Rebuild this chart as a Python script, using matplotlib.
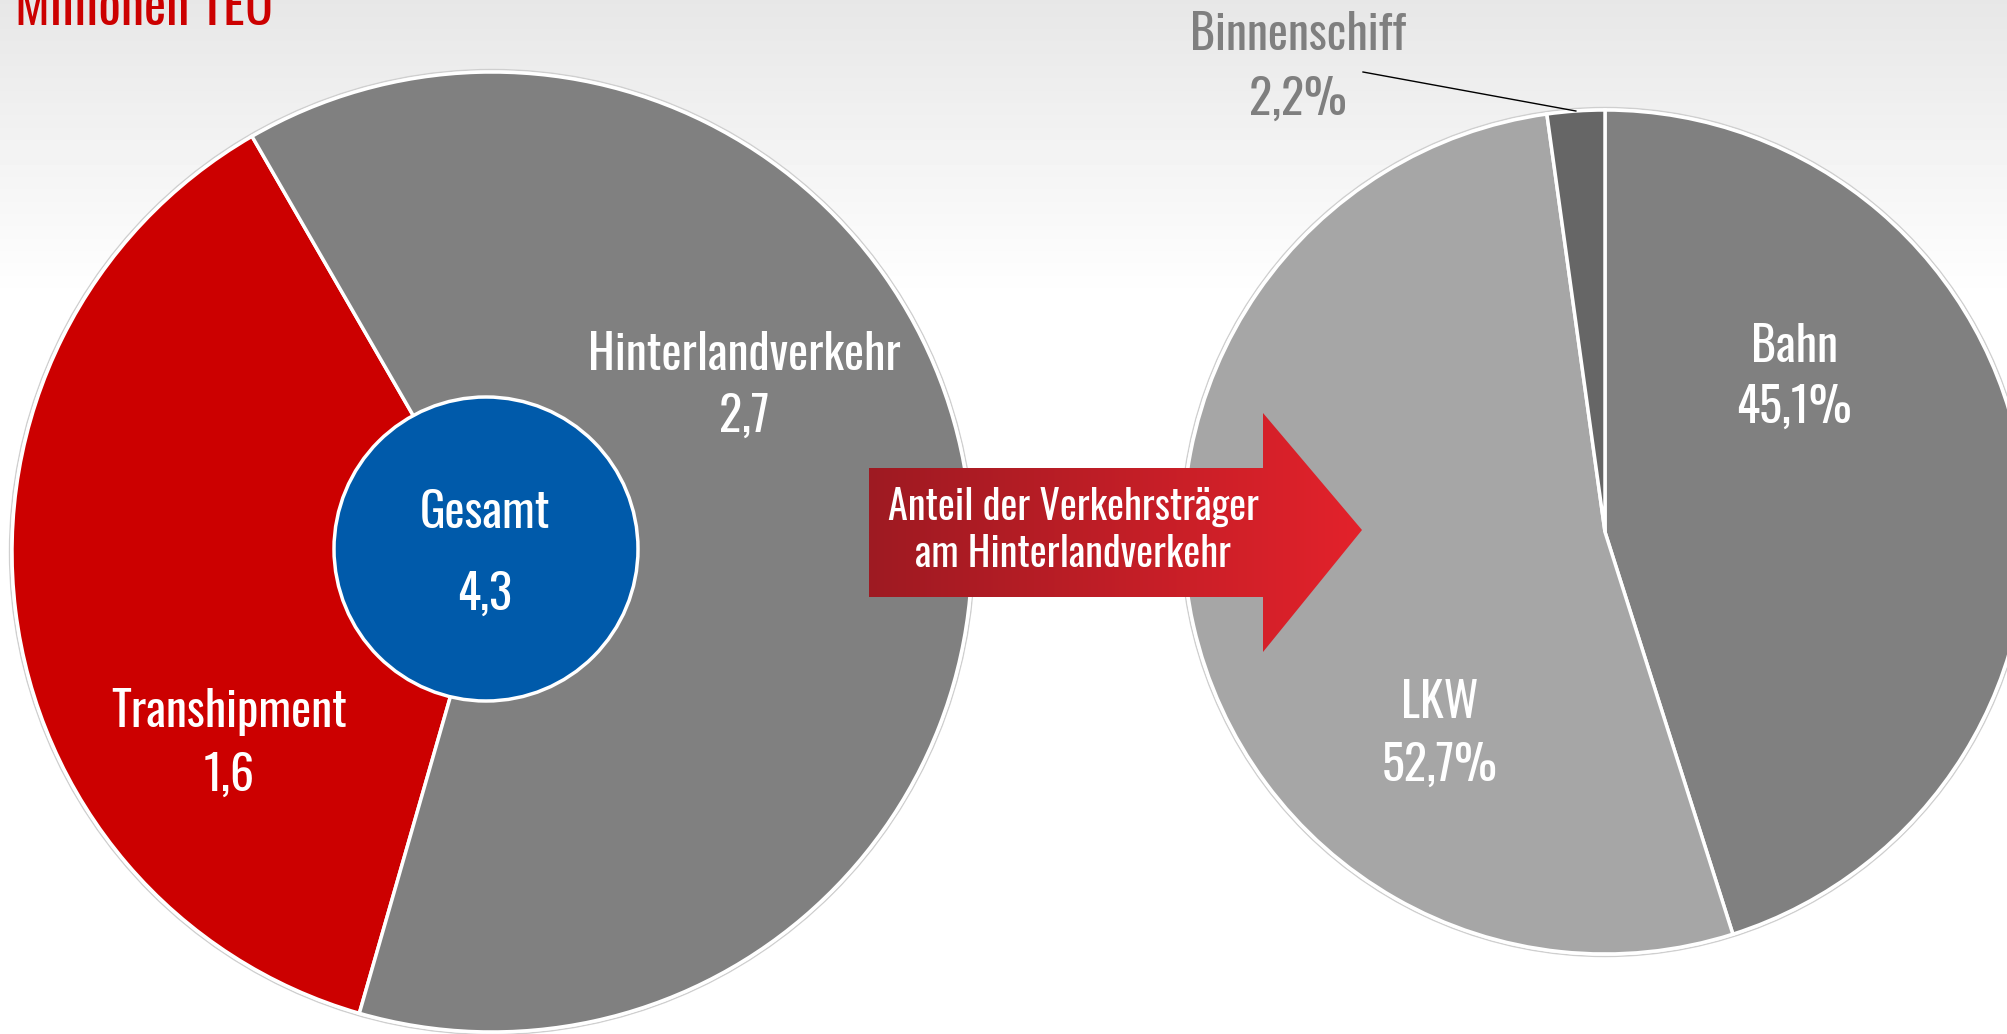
import numpy as np
import matplotlib.pyplot as plt
from matplotlib.patches import Circle, Polygon

# data
left_labels = ['Transhipment', 'Hinterlandverkehr']
left_values = [1.6, 2.7]
total_label = 'Gesamt'
total_value = 4.3
right_labels = ['Bahn', 'LKW', 'Binnenschiff']
right_values = [45.1, 52.7, 2.2]

W, H = 2007, 1034
FONT = ['Oswald', 'Fira Sans Condensed', 'DejaVu Sans']


def de(v, pct=False):
    s = ('%.1f' % v).replace('.', ',')
    return s + '%' if pct else s


def Y(y):
    # picture rows (from top) -> axes coords
    return H - y


fig = plt.figure(figsize=(W / 100.0, H / 100.0), dpi=100)
ax = fig.add_axes([0, 0, 1, 1])
ax.axis('off')

# background: light grey at the top fading to white
rows = np.arange(H).reshape(-1, 1)
grad = np.clip(0.905 + 0.095 * rows / 300.0, 0, 1)
ax.imshow(grad, extent=[0, W, 0, H], cmap='gray', vmin=0, vmax=1,
          aspect='auto', zorder=0, origin='upper')

# left pie
lc = (492, Y(552))
lr = 480
ax.add_patch(Circle(lc, lr + 2.5, fc='none', ec='#cfcfcf', lw=1, zorder=1))
ax.pie(left_values, colors=['#CC0000', '#808080'], startangle=120,
       counterclock=True, center=lc, radius=lr,
       wedgeprops=dict(edgecolor='white', linewidth=2.5))
ax.add_patch(Circle((486, Y(549)), 152, fc='#005AAA', ec='white', lw=2.5, zorder=3))

# right pie
rc = (1605, Y(532))
rr = 422
ax.add_patch(Circle(rc, rr + 2.5, fc='none', ec='#cfcfcf', lw=1, zorder=1))
ax.pie(right_values, colors=['#808080', '#A6A6A6', '#666666'], startangle=90,
       counterclock=False, center=rc, radius=rr,
       wedgeprops=dict(edgecolor='white', linewidth=2.5))

fs = 34.5
txt = dict(color='white', fontsize=fs, family=FONT, ha='center', va='baseline', zorder=5)
ax.text(744, Y(370), left_labels[1], **txt)
ax.text(744, Y(432), de(left_values[1]), **txt)
ax.text(229, Y(727), left_labels[0], **txt)
ax.text(229, Y(791), de(left_values[0]), **txt)
ax.text(485, Y(528), total_label, **txt)
ax.text(485, Y(610), de(total_value), **txt)
ax.text(1794, Y(362), right_labels[0], **txt)
ax.text(1794, Y(423), de(right_values[0], True), **txt)
ax.text(1440, Y(718), right_labels[1], **txt)
ax.text(1440, Y(781), de(right_values[1], True), **txt)

txt['color'] = '#7F7F7F'
ax.text(1298, Y(50), right_labels[2], **txt)
ax.text(1298, Y(115), de(right_values[2], True), **txt)

# leader line to the small slice
mid = np.deg2rad(90 - right_values[0] / 100.0 * 360 - right_values[1] / 100.0 * 360
                 - right_values[2] / 100.0 * 180)
ex = rc[0] + rr * np.cos(mid)
ey = rc[1] + rr * np.sin(mid)
ax.plot([1363, ex], [Y(72), ey], color='black', lw=1, zorder=4)

# title (cut at the top edge, as in the original)
ax.text(15, Y(25), 'Millionen TEU', color='#CC0000', fontsize=38, family=FONT,
        ha='left', va='baseline', zorder=5)

# arrow with horizontal gradient
pts = [(869, Y(468)), (1263, Y(468)), (1263, Y(413)), (1362, Y(530)),
       (1263, Y(652)), (1263, Y(597)), (869, Y(597))]
arrow = Polygon(pts, closed=True, fc='none', ec='none', zorder=6)
ax.add_patch(arrow)
g = np.linspace(0, 1, 256).reshape(1, -1, 1)
c0 = np.array([0x9E, 0x1A, 0x22]) / 255.0
c1 = np.array([0xE3, 0x22, 0x2B]) / 255.0
img = c0 * (1 - g) + c1 * g
im = ax.imshow(img, extent=[869, 1362, Y(652), Y(413)], aspect='auto', zorder=6,
               origin='upper')
im.set_clip_path(arrow)

atxt = dict(color='white', fontsize=29, family=FONT, ha='center', va='baseline', zorder=7)
ax.text(1073, Y(520), 'Anteil der Verkehrsträger', **atxt)
ax.text(1073, Y(567), 'am Hinterlandverkehr', **atxt)

ax.set_xlim(0, W)
ax.set_ylim(0, H)
ax.set_aspect('equal')

fig.savefig('out.png', dpi=100)
